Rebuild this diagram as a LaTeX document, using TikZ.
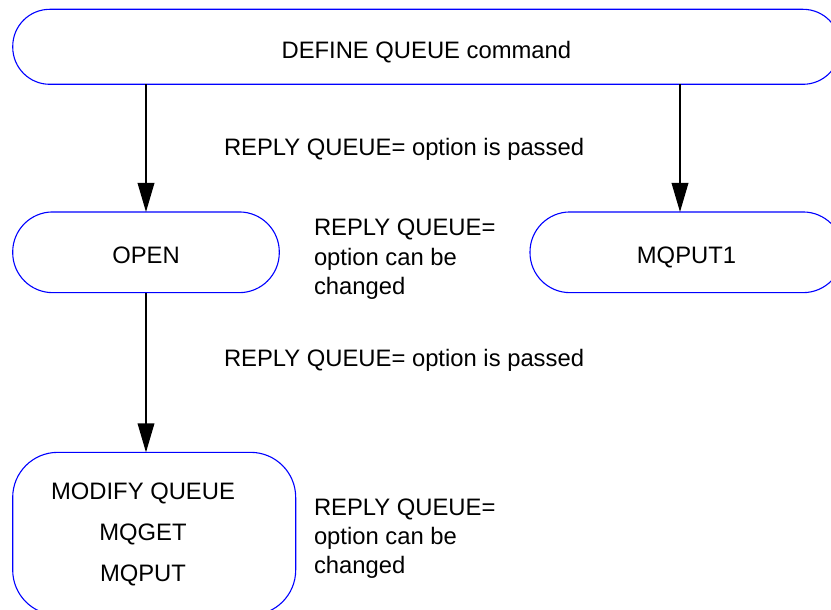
\documentclass[tikz,border=0pt]{standalone}
\usepackage{fontspec}
\setmainfont{Liberation Sans}
\usetikzlibrary{arrows.meta}
\begin{document}
\begin{tikzpicture}[x=1pt,y=-1pt,
  box/.style={draw=blue, line width=1.1pt, rectangle, inner sep=0pt, outer sep=0pt,
    font=\fontsize{23.8}{29.3}\selectfont, text height=23pt, text depth=0pt},
  lbl/.style={inner sep=0pt, outer sep=0pt, align=left, anchor=north west,
    font=\fontsize{23.8}{29.3}\selectfont},
  arr/.style={line width=1.3pt, -{Triangle[length=29pt,width=16.7pt]}}]
\useasboundingbox (0,0) rectangle (831,610);
\clip (0,0) rectangle (831,610);
\node[box, rounded corners=37pt, minimum width=827.3pt, minimum height=75pt] (top) at (426.4,46.8) {DEFINE QUEUE command};
\node[box, rounded corners=40pt, minimum width=266.6pt, minimum height=80.7pt] (open) at (146,252.3) {OPEN};
\node[box, rounded corners=40pt, minimum width=313pt, minimum height=80.7pt] (mq) at (686.5,252.3) {MQPUT1};
\node[box, rounded corners=45pt, minimum width=283pt, minimum height=162.7pt] (mod) at (154.2,533.7) {};
\node[lbl, anchor=north, align=center, font=\fontsize{23.8}{41}\selectfont] (modt) at (143,483.1) {MODIFY QUEUE\\MQGET\\MQPUT};
\node[lbl] (l1) at (224,138.4) {REPLY QUEUE= option is passed};
\node[lbl] (l2) at (314,219.1) {REPLY QUEUE=\\option can be\\changed};
\node[lbl] (l3) at (224,349.1) {REPLY QUEUE= option is passed};
\node[lbl] (l4) at (314,498.4) {REPLY QUEUE=\\option can be\\changed};
\draw[arr] (open.north |- top.south) -- (open.north);
\draw[arr] ([xshift=-6.5pt]mq.north |- top.south) -- ([xshift=-6.5pt]mq.north);
\draw[arr] (open.south) -- (open.south |- mod.north);
\end{tikzpicture}
\end{document}
